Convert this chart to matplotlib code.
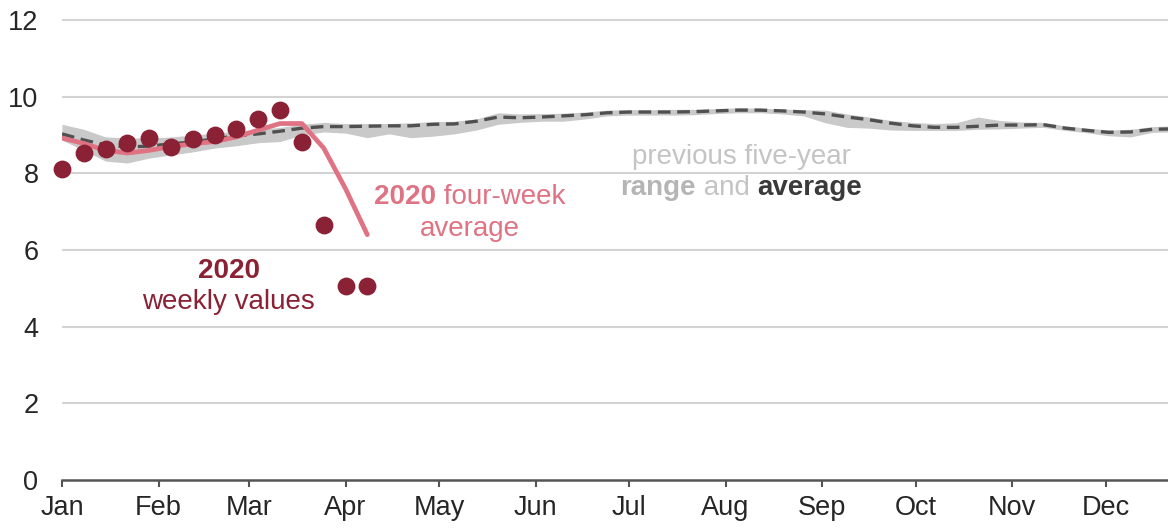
import numpy as np
import matplotlib
matplotlib.use("Agg")
import matplotlib.pyplot as plt
from matplotlib.offsetbox import TextArea, HPacker, AnnotationBbox

plt.rcParams['font.family'] = ['Liberation Sans', 'DejaVu Sans']

# month starts (day of year, 2020 is a leap year)
month_days = [0, 31, 60, 91, 121, 152, 182, 213, 244, 274, 305, 335]
month_labels = ['Jan', 'Feb', 'Mar', 'Apr', 'May', 'Jun',
                'Jul', 'Aug', 'Sep', 'Oct', 'Nov', 'Dec']

# previous five-year average / range, weekly
avg5 = [9.03, 8.87, 8.74, 8.69, 8.71, 8.77, 8.82, 8.90, 8.98, 9.03,
        9.10, 9.18, 9.22, 9.22, 9.23, 9.24, 9.24, 9.28, 9.29, 9.36,
        9.47, 9.45, 9.47, 9.50, 9.53, 9.58, 9.60, 9.60, 9.60, 9.61,
        9.63, 9.65, 9.65, 9.63, 9.60, 9.55, 9.47, 9.40, 9.31, 9.24,
        9.20, 9.20, 9.23, 9.26, 9.26, 9.27, 9.18, 9.12, 9.07, 9.08,
        9.15, 9.16]
low5 = [8.87, 8.60, 8.32, 8.27, 8.40, 8.48, 8.56, 8.66, 8.72, 8.80,
        8.83, 9.00, 9.08, 9.05, 8.93, 9.03, 8.93, 8.97, 9.03, 9.13,
        9.28, 9.33, 9.36, 9.36, 9.42, 9.50, 9.52, 9.52, 9.52, 9.53,
        9.56, 9.58, 9.58, 9.55, 9.50, 9.32, 9.20, 9.18, 9.13, 9.12,
        9.12, 9.12, 9.15, 9.16, 9.18, 9.20, 9.12, 9.06, 8.98, 8.95,
        9.07, 9.08]
high5 = [9.28, 9.15, 8.95, 8.93, 8.92, 8.95, 9.00, 9.05, 9.10, 9.15,
         9.20, 9.28, 9.33, 9.30, 9.30, 9.30, 9.32, 9.35, 9.36, 9.42,
         9.58, 9.55, 9.56, 9.57, 9.60, 9.65, 9.66, 9.66, 9.67, 9.67,
         9.69, 9.71, 9.70, 9.68, 9.66, 9.65, 9.55, 9.47, 9.38, 9.33,
         9.30, 9.32, 9.47, 9.38, 9.34, 9.33, 9.24, 9.18, 9.13, 9.15,
         9.22, 9.24]

# 2020 weekly values and four-week average
weekly2020 = [8.11, 8.54, 8.63, 8.78, 8.91, 8.70, 8.89, 9.00, 9.17, 9.42,
              9.65, 8.83, 6.65, 5.06, 5.06]
avg4wk2020 = [8.92, 8.78, 8.60, 8.53, 8.60, 8.70, 8.77, 8.83, 8.95, 9.13,
              9.30, 9.30, 8.66, 7.60, 6.40]

days5 = np.arange(len(avg5)) * 7
days2020 = np.arange(len(weekly2020)) * 7

c_dot = '#8b2134'
c_line = '#df7384'
c_band = '#c9c9c9'
c_avg = '#505050'

fig = plt.figure(figsize=(11.68, 5.31), dpi=100)
ax = fig.add_axes([62 / 1168, 51 / 531, 1 - 62 / 1168, 480 / 531])

for y in [2, 4, 6, 8, 10, 12]:
    ax.axhline(y, color='#d3d3d3', lw=1.5, zorder=0)

ax.fill_between(days5, low5, high5, color=c_band, lw=0, zorder=1)
ax.plot(days5, avg5, color=c_avg, lw=2.4, dashes=(3.8, 2.0), zorder=2)
ax.plot(days2020, avg4wk2020, color=c_line, lw=3.4, zorder=3,
        solid_capstyle='round', solid_joinstyle='round')
ax.scatter(days2020, weekly2020, s=165, color=c_dot, zorder=4, lw=0,
           clip_on=False)

ax.set_xlim(0, 355)
ax.set_ylim(0, 480 / 38.33)
ax.set_yticks([0, 2, 4, 6, 8, 10, 12])
ax.set_xticks(month_days)
ax.set_xticklabels(month_labels)
for s in ['top', 'right', 'left']:
    ax.spines[s].set_visible(False)
ax.spines['bottom'].set_color('#555555')
ax.spines['bottom'].set_linewidth(1.8)
ax.tick_params(axis='y', length=0, pad=17, labelsize=19.5, labelcolor='#262626')
ax.tick_params(axis='x', length=5, width=1.5, color='#555555', pad=6,
               labelsize=19.5, labelcolor='#262626')


def rich(parts, xy):
    boxes = [TextArea(t, textprops=dict(color=c, fontweight=w, fontsize=20))
             for t, c, w in parts]
    pack = HPacker(children=boxes, sep=0, pad=0, align='baseline')
    ab = AnnotationBbox(pack, xy, xycoords='data', frameon=False,
                        box_alignment=(0.5, 0.5), pad=0)
    ax.add_artist(ab)


lg = '#c4c4c4'
rich([('previous five-year', lg, 'normal')], (218, 8.43))
rich([('range', '#b5b5b5', 'bold'), (' and ', lg, 'normal'),
      ('average', '#3a3a3a', 'bold')], (218, 7.62))
rich([('2020', c_line, 'bold'), (' four-week', c_line, 'normal')], (131, 7.38))
rich([('average', c_line, 'normal')], (131, 6.55))
rich([('2020', c_dot, 'bold')], (53.5, 5.45))
rich([('weekly values', c_dot, 'normal')], (53.5, 4.64))

fig.savefig('out.png', dpi=100)
